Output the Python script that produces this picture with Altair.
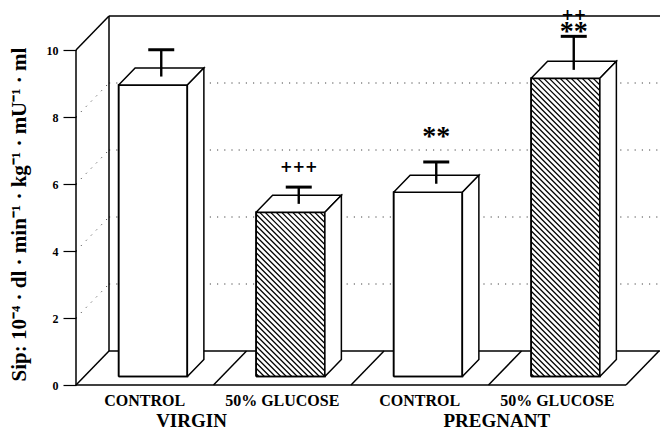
import altair as alt
import pandas as pd

# ---------------- data ----------------
groups = ["VIRGIN", "PREGNANT"]
group_pos = [0.84, 3.06]            # label centre, in slot units
treatments = ["CONTROL", "50% GLUCOSE", "CONTROL", "50% GLUCOSE"]
hatched = [False, True, False, True]
means = [8.7, 4.9, 5.5, 8.9]
sem = [0.8, 0.5, 0.65, 1.0]
annot_bar = [1, 2, 3, 3]
annot_text = ["+++", "**", "**", "++"]
annot_lift = [20, 34, 13, 21]        # px above the error cap
y_ticks = [0, 2, 4, 6, 8, 10]
y_title = "Sip: 10\u207b\u2074 \u00b7 dl \u00b7 min\u207b\u00b9 \u00b7 kg\u207b\u00b9 \u00b7 mU\u207b\u00b9 \u00b7 ml"

# ---------------- geometry (style) ----------------
TOP = 8
Z = 385.0          # page y of front zero
U = 33.5           # px per unit
W = 584
H = int(Z - TOP)
YMAX = H / U
SX0 = 76.0
XMAX = SX0 + W
DX = 33.0
DYP = 34.0
DYV = DYP / U
SW = 137.5
BW = SW / 2
FONT = "Liberation Serif"

yaxis = alt.Axis(values=y_ticks, domain=False, grid=False, ticks=True, tickColor="black",
                 tickSize=13, tickWidth=1.2, labelFont=FONT, labelFontWeight="bold",
                 labelFontSize=12, labelColor="black", labelPadding=5,
                 title=y_title, titleFont=FONT, titleFontWeight="bold", titleFontSize=21,
                 titleColor="black", titleAngle=270, titleX=-57, titleY=206,
                 titleAlign="center", titleBaseline="middle")


def X(field="x"):
    return alt.X(f"{field}:Q", scale=alt.Scale(domain=[SX0, XMAX], nice=False, zero=False), axis=None)


def Y(field="y"):
    return alt.Y(f"{field}:Q", scale=alt.Scale(domain=[0, YMAX], nice=False, zero=False), axis=yaxis)


# ---------------- walls / floor ----------------
solid = []


def seg(lst, x, y, x2, y2):
    lst.append({"x": x, "y": y, "x2": x2, "y2": y2})


seg(solid, SX0 + DX, 10 + DYV, XMAX, 10 + DYV)       # back wall top
seg(solid, SX0 + DX, DYV, SX0 + DX, 10 + DYV)        # back wall left edge
seg(solid, SX0, 10, SX0 + DX, 10 + DYV)              # side wall top
seg(solid, SX0, 0, SX0, 10)                          # front axis line
seg(solid, SX0, 0, SX0 + 4 * SW, 0)                  # floor front
seg(solid, SX0 + DX, DYV, XMAX, DYV)                 # floor back
for k in range(5):
    seg(solid, SX0 + k * SW, 0, SX0 + k * SW + DX, DYV)
solid_df = pd.DataFrame(solid)

dotted = []
for v in y_ticks[1:-1]:
    seg(dotted, SX0 + DX, v + DYV, XMAX, v + DYV)
    seg(dotted, SX0, v, SX0 + DX, v + DYV)
dotted_df = pd.DataFrame(dotted)

# ---------------- bars ----------------
fronts, tops, sides, hatch, err, caps = [], [], [], [], [], []
centers = []
for i, (v, se) in enumerate(zip(means, sem)):
    L = SX0 + i * SW + (SW - BW) / 2 + 0.25 * DX
    R = L + BW
    b = 0.25 * DYV
    t = b + v
    ox, oy = 0.5 * DX, 0.5 * DYV
    for k, (px, py) in enumerate([(L, b), (R, b), (R, t), (L, t), (L, b)]):
        fronts.append({"shape": i, "k": k, "x": px, "y": py})
    for k, (px, py) in enumerate([(L, t), (R, t), (R + ox, t + oy), (L + ox, t + oy), (L, t)]):
        tops.append({"shape": i, "k": k, "x": px, "y": py})
    for k, (px, py) in enumerate([(R, b), (R + ox, b + oy), (R + ox, t + oy), (R, t), (R, b)]):
        sides.append({"shape": i, "k": k, "x": px, "y": py})
    if hatched[i]:
        h0, h1 = b * U, t * U
        step = 5.5
        kk = L + h0 + step / 2
        while kk < R + h1:
            xs = max(L, kk - h1)
            xe = min(R, kk - h0)
            if xe > xs + 0.3:
                hatch.append({"x": xs, "y": (kk - xs) / U, "x2": xe, "y2": (kk - xe) / U})
            kk += step
    cx = L + BW / 2 + 0.25 * DX
    base = v + 0.5 * DYV
    cap = base + se
    centers.append((cx, cap))
    err.append({"x": cx, "y": base, "y2": cap})
    caps.append({"x": cx - 13, "x2": cx + 13, "y": cap})

fronts_df = pd.DataFrame(fronts)
tops_df = pd.DataFrame(tops)
sides_df = pd.DataFrame(sides)
hatch_df = pd.DataFrame(hatch)
err_df = pd.DataFrame(err)
caps_df = pd.DataFrame(caps)

ann = []
for bi, txt, lift in zip(annot_bar, annot_text, annot_lift):
    cx, cap = centers[bi]
    ann.append({"x": cx, "y": cap + lift / U, "t": txt, "star": "*" in txt})
ann_df = pd.DataFrame(ann)

xlab_df = pd.DataFrame({"x": [SX0 + (i + 0.5) * SW for i in range(4)], "y": [0] * 4, "t": treatments})
glab_df = pd.DataFrame({"x": [SX0 + p * SW for p in group_pos], "y": [0] * 2, "t": groups})

# ---------------- layers ----------------
dotted_layer = alt.Chart(dotted_df).mark_rule(color="#444", strokeWidth=1, strokeDash=[1.2, 6]).encode(
    x=X(), x2="x2", y=Y(), y2="y2")
solid_layer = alt.Chart(solid_df).mark_rule(color="black", strokeWidth=1.5).encode(
    x=X(), x2="x2", y=Y(), y2="y2")


def poly(df):
    return alt.Chart(df).mark_line(fill="white", stroke="black", strokeWidth=1.5, strokeJoin="miter").encode(
        x=X(), y=Y(), detail="shape:N", order="k:Q")


hatch_layer = alt.Chart(hatch_df).mark_rule(color="black", strokeWidth=1.3).encode(
    x=X(), x2="x2", y=Y(), y2="y2")
fronts_outline = alt.Chart(fronts_df).mark_line(stroke="black", strokeWidth=1.6).encode(
    x=X(), y=Y(), detail="shape:N", order="k:Q")
err_layer = alt.Chart(err_df).mark_rule(color="black", strokeWidth=2.4).encode(x=X(), y=Y(), y2="y2")
cap_layer = alt.Chart(caps_df).mark_rule(color="black", strokeWidth=3).encode(x=X(), x2="x2", y=Y())

plus_layer = alt.Chart(ann_df).transform_filter("!datum.star").mark_text(
    font="DejaVu Sans", fontWeight="bold", fontSize=15, baseline="middle", color="black").encode(
    x=X(), y=Y(), text="t:N")
star_layer = alt.Chart(ann_df).transform_filter("datum.star").mark_text(
    font=FONT, fontWeight="bold", fontSize=28, baseline="middle", dy=9, color="black").encode(
    x=X(), y=Y(), text="t:N")

xlab_layer = alt.Chart(xlab_df).mark_text(font=FONT, fontWeight="bold", fontSize=16,
                                          baseline="middle", dy=16, color="black").encode(
    x=X(), y=Y(), text="t:N")
glab_layer = alt.Chart(glab_df).mark_text(font=FONT, fontWeight="bold", fontSize=19,
                                          baseline="middle", dy=36, color="black").encode(
    x=X(), y=Y(), text="t:N")

chart = alt.layer(
    dotted_layer, solid_layer,
    poly(fronts_df), hatch_layer, fronts_outline, poly(tops_df), poly(sides_df),
    err_layer, cap_layer, plus_layer, star_layer, xlab_layer, glab_layer,
).properties(
    width=W, height=H,
    padding={"left": 68, "top": 0, "right": 0, "bottom": 45},
    autosize=alt.AutoSizeParams(type="none"),
    background="white",
).configure_view(stroke=None)

chart.save("out.html", embed_options={"renderer": "svg", "actions": False})
